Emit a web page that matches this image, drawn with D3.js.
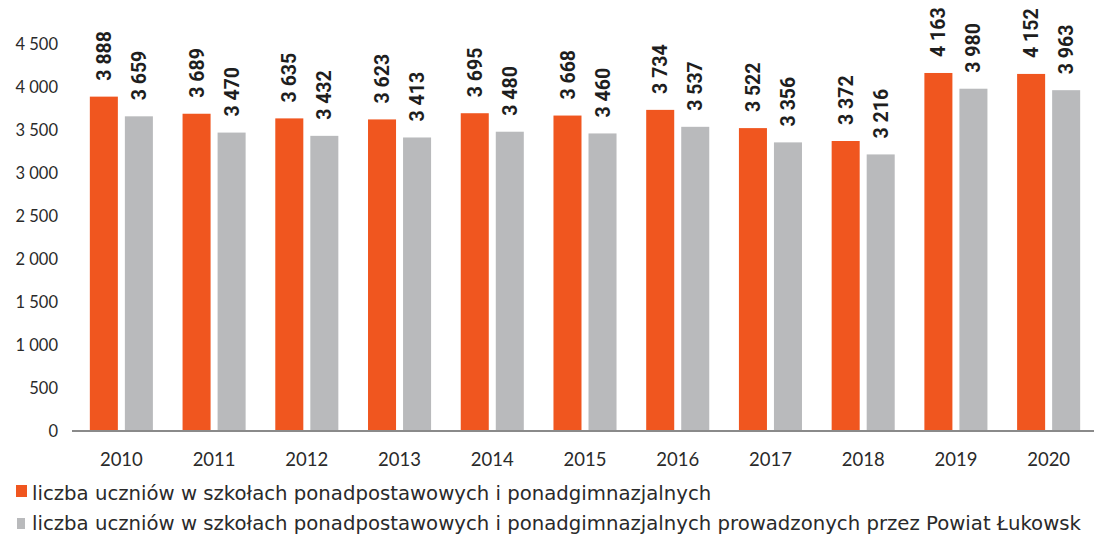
<!DOCTYPE html>
<html>
<head>
<meta charset="utf-8">
<script src="https://cdn.jsdelivr.net/npm/d3@7"></script>
<style>
  body { margin: 0; background: #fff; }
  svg { display: block; }
  .axis text { font-family: Lato, "Open Sans", sans-serif; fill: #2a2a2a; }
</style>
</head>
<body>
<script>
// data
var years = ["2010", "2011", "2012", "2013", "2014", "2015", "2016", "2017", "2018", "2019", "2020"];
var allStudents = [3888, 3689, 3635, 3623, 3695, 3668, 3734, 3522, 3372, 4163, 4152];
var powiatStudents = [3659, 3470, 3432, 3413, 3480, 3460, 3537, 3356, 3216, 3980, 3963];
var yTicks = [0, 500, 1000, 1500, 2000, 2500, 3000, 3500, 4000, 4500];
var seriesNames = [
    "liczba uczniów w szkołach ponadpostawowych i ponadgimnazjalnych",
    "liczba uczniów w szkołach ponadpostawowych i ponadgimnazjalnych prowadzonych przez Powiat Łukowsk"
];
var colors = ["#f0561f", "#b9babc"];

// set up canvas
var margin = {top: 44, right: 0, bottom: 104, left: 72},
    width = 1094 - margin.left - margin.right,
    height = 535 - margin.top - margin.bottom;

var fmt = d3.formatLocale({decimal: ",", thousands: " ", grouping: [3], currency: ["", ""]}).format(",d");

// create scales
var xBar = d3.scaleBand().domain(years).range([3, 1023]).paddingInner(0.32).paddingOuter(0.16),
    xSub = d3.scaleBand().domain([0, 1]).range([0, xBar.bandwidth()]).paddingInner(0.2),
    yBar = d3.scaleLinear().domain([0, 4500]).range([height, 0]);

var svg = d3.select("body")
    .append("svg")
    .attr("width", 1094)
    .attr("height", 535);

var g = svg.append("g")
    .attr("id", "barChart")
    .attr("transform", "translate(" + margin.left + "," + margin.top + ")");

// y axis (labels only)
g.append("g")
    .attr("class", "axis axis--y")
    .call(d3.axisLeft(yBar).tickValues(yTicks).tickSize(0).tickPadding(14).tickFormat(fmt))
    .call(function(a) { a.select(".domain").remove(); })
    .selectAll("text")
    .attr("font-size", 16.5);

// bars, one group per year
var groups = g.selectAll(".year")
    .data(years)
    .enter().append("g")
    .attr("class", "year")
    .attr("transform", function(d) { return "translate(" + xBar(d) + ",0)"; });

groups.selectAll(".bar")
    .data(function(d, i) { return [allStudents[i], powiatStudents[i]]; })
    .enter().append("rect")
    .attr("class", "bar")
    .attr("x", function(d, j) { return xSub(j); })
    .attr("y", function(d) { return yBar(d); })
    .attr("width", xSub.bandwidth())
    .attr("height", function(d) { return height - yBar(d); })
    .attr("fill", function(d, j) { return colors[j]; });

// value labels, rotated
groups.selectAll(".value")
    .data(function(d, i) { return [allStudents[i], powiatStudents[i]]; })
    .enter().append("text")
    .attr("class", "value")
    .attr("transform", function(d, j) {
        return "translate(" + (xSub(j) + xSub.bandwidth() / 2) + "," + (yBar(d) - 16) + ") rotate(-90)";
    })
    .attr("dy", "0.36em")
    .attr("font-family", "Roboto, sans-serif")
    .attr("font-weight", "bold")
    .attr("font-size", 19.5)
    .attr("fill", "#1e1e1e")
    .text(function(d) { return fmt(d); });

// baseline
g.append("line")
    .attr("x1", 0)
    .attr("x2", width)
    .attr("y1", yBar(0))
    .attr("y2", yBar(0))
    .attr("stroke", "#8a8a8a")
    .attr("stroke-width", 2);

// x axis labels
g.append("g")
    .attr("class", "axis axis--x")
    .attr("transform", "translate(0," + height + ")")
    .call(d3.axisBottom(xBar).tickSize(0).tickPadding(22))
    .call(function(a) { a.select(".domain").remove(); })
    .selectAll("text")
    .attr("font-size", 18.5);

// legend
var legend = svg.selectAll(".legend")
    .data(seriesNames)
    .enter().append("g")
    .attr("class", "legend")
    .attr("transform", function(d, i) { return "translate(16," + (500 + i * 30) + ")"; });

legend.append("rect")
    .attr("x", function(d, i) { return i ? 1 : 0; })
    .attr("y", function(d, i) { return i ? -12 : -15; })
    .attr("width", function(d, i) { return i ? 8 : 11; })
    .attr("height", function(d, i) { return i ? 11 : 12; })
    .attr("fill", function(d, i) { return colors[i]; });

legend.append("text")
    .attr("x", 16)
    .attr("font-family", "'DejaVu Sans', sans-serif")
    .attr("font-size", 19.7)
    .attr("fill", "#2a2a2a")
    .text(function(d) { return d; });
</script>
</body>
</html>
